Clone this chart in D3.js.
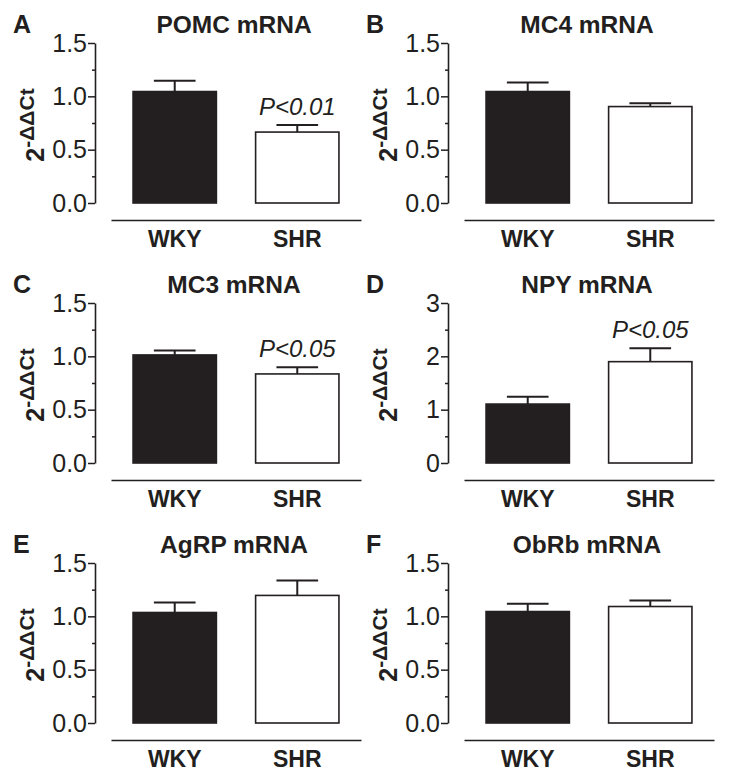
<!DOCTYPE html>
<html>
<head>
<meta charset="utf-8">
<script src="https://cdn.jsdelivr.net/npm/d3@7"></script>
<style>
  html, body { margin: 0; padding: 0; background: #fff; }
  svg { display: block; font-family: "Liberation Sans", Arial, sans-serif; }
</style>
</head>
<body>
<svg id="chart" width="729" height="782"></svg>
<script>
/* Six hypothalamic mRNA panels, WKY vs SHR, mean with upward SEM bar. */
var panelLetters = ["A", "B", "C", "D", "E", "F"];
var panelTitles = ["POMC mRNA", "MC4 mRNA", "MC3 mRNA", "NPY mRNA", "AgRP mRNA", "ObRb mRNA"];
var groups = ["WKY", "SHR"];
var wkyMean = [1.045, 1.045, 1.013, 1.105, 1.036, 1.045];
var wkyErr = [0.100, 0.085, 0.041, 0.138, 0.094, 0.072];
var shrMean = [0.665, 0.904, 0.835, 1.90, 1.196, 1.092];
var shrErr = [0.066, 0.031, 0.062, 0.253, 0.141, 0.057];
var yMax = [1.5, 1.5, 1.5, 3, 1.5, 1.5];
var majorTicks = [[0, 0.5, 1, 1.5], [0, 0.5, 1, 1.5], [0, 0.5, 1, 1.5], [0, 1, 2, 3], [0, 0.5, 1, 1.5], [0, 0.5, 1, 1.5]];
var pLabels = ["P<0.01", "", "P<0.05", "P<0.05", "", ""];

(function () {
  var svg = d3.select("#chart");
  var colX = [95, 448], rowTop = [43, 303, 563], PH = 160;
  var INK = "#231f20", FONT = "Liberation Sans, Arial, sans-serif";

  panelLetters.forEach(function (letter, i) {
    var ax = colX[i % 2], top = rowTop[Math.floor(i / 2)], base = top + PH;
    var g = svg.append("g").attr("transform", "translate(" + ax + ",0)");
    var y = d3.scaleLinear().domain([0, yMax[i]]).range([base, top]);
    var x = d3.scaleBand().domain(groups).range([16, 266]).paddingInner(0.32).paddingOuter(0.18);
    var step = majorTicks[i][1] - majorTicks[i][0];
    var minor = d3.range(0, yMax[i] + 1e-9, step / 2).filter(function (v) { return majorTicks[i].indexOf(+v.toFixed(3)) < 0; });
    var fmt = yMax[i] > 2 ? d3.format("d") : d3.format(".1f");

    // minor ticks first, then the labelled axis on top
    g.append("g").call(d3.axisLeft(y).tickValues(minor).tickSize(3).tickSizeOuter(0).tickFormat(""))
      .call(function (s) { s.select(".domain").remove(); s.selectAll("line").attr("stroke", INK).attr("stroke-width", 1.5); });
    g.append("g").call(d3.axisLeft(y).tickValues(majorTicks[i]).tickSize(7).tickSizeOuter(0).tickPadding(1).tickFormat(fmt))
      .call(function (s) {
        s.select(".domain").attr("stroke", INK).attr("stroke-width", 1.6);
        s.selectAll("line").attr("stroke", INK).attr("stroke-width", 1.5);
        s.selectAll("text").attr("font-size", 25).attr("fill", INK).attr("font-family", FONT);
      });

    // bars
    var means = [wkyMean[i], shrMean[i]], errs = [wkyErr[i], shrErr[i]];
    var bw = x.bandwidth();
    var d = groups.map(function (k, j) { return { k: k, m: means[j], e: errs[j], fill: j === 0 ? INK : "#fff" }; });
    g.selectAll("line.stem").data(d).enter().append("line")
      .attr("x1", function (o) { return x(o.k) + bw / 2; }).attr("x2", function (o) { return x(o.k) + bw / 2; })
      .attr("y1", function (o) { return y(o.m); }).attr("y2", function (o) { return y(o.m + o.e); })
      .attr("stroke", INK).attr("stroke-width", 2);
    g.selectAll("line.cap").data(d).enter().append("line")
      .attr("x1", function (o) { return x(o.k) + bw / 4; }).attr("x2", function (o) { return x(o.k) + bw * 3 / 4; })
      .attr("y1", function (o) { return y(o.m + o.e); }).attr("y2", function (o) { return y(o.m + o.e); })
      .attr("stroke", INK).attr("stroke-width", 2);
    g.selectAll("rect.bar").data(d).enter().append("rect")
      .attr("x", function (o) { return x(o.k); }).attr("width", bw)
      .attr("y", function (o) { return y(o.m); }).attr("height", function (o) { return y(0) - y(o.m); })
      .attr("fill", function (o) { return o.fill; }).attr("stroke", INK).attr("stroke-width", 1.6);

    if (pLabels[i]) {
      g.append("text").attr("x", x("SHR") + bw / 2).attr("y", y(shrMean[i] + shrErr[i]) - 10)
        .attr("text-anchor", "middle").attr("font-size", 24).attr("font-style", "italic").attr("fill", INK)
        .text(pLabels[i]);
    }

    // category axis: a plain rule with bold labels underneath
    g.append("g").attr("transform", "translate(0," + (base + 17) + ")")
      .call(d3.axisBottom(x).tickSize(0).tickSizeOuter(0).tickPadding(11))
      .call(function (s) {
        s.select(".domain").attr("stroke", INK).attr("stroke-width", 1.6);
        s.selectAll("text").attr("font-size", 23).attr("font-weight", "bold").attr("fill", INK).attr("font-family", FONT);
      });

    g.append("text").attr("x", 139).attr("y", top - 10).attr("text-anchor", "middle")
      .attr("font-size", 24.5).attr("font-weight", "bold").attr("fill", INK).text(panelTitles[i]);
    g.append("text").attr("x", -82).attr("y", top - 10)
      .attr("font-size", 25).attr("font-weight", "bold").attr("fill", INK).text(letter);

    var yl = g.append("text").attr("transform", "translate(-51," + (top + PH / 2 + 2) + ") rotate(-90)")
      .attr("text-anchor", "middle").attr("font-weight", "bold").attr("fill", INK).attr("font-size", 25);
    yl.append("tspan").text("2");
    yl.append("tspan").attr("dy", -10).attr("font-size", 21).text("-ΔΔCt");
  });
})();
</script>
</body>
</html>
